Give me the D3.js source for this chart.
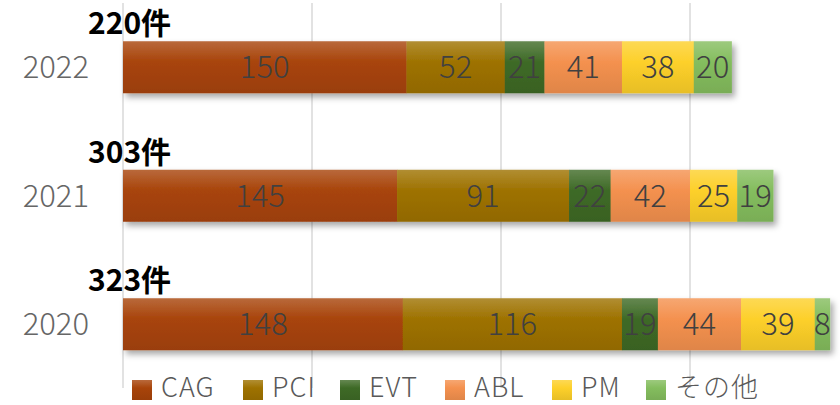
<!DOCTYPE html>
<html>
<head>
<meta charset="utf-8">
<script src="https://cdn.jsdelivr.net/npm/d3@7"></script>
<style>
  body { margin: 0; background: #fff; }
  svg { display: block; font-family: "Noto Sans CJK JP", "Noto Sans", sans-serif; }
</style>
</head>
<body>
<div id="chart"></div>
<script>
// data
var years = ['2022', '2021', '2020'];
var totalLabels = ['220件', '303件', '323件'];
var seriesNames = ['CAG', 'PCI', 'EVT', 'ABL', 'PM', 'その他'];
var cag = [150, 145, 148];
var pci = [52, 91, 116];
var evt = [21, 22, 19];
var abl = [41, 42, 44];
var pm = [38, 25, 39];
var other = [20, 19, 8];
var gridTicks = [0, 100, 200, 300];

var colors = ['#a8440a', '#9e7200', '#3e6a26', '#f4914f', '#fdd02a', '#84bd5e'];

var width = 840, height = 405;
var barH = 52;

var rows = years.map(function(y, i) {
  return { year: y, total: totalLabels[i], vals: [cag[i], pci[i], evt[i], abl[i], pm[i], other[i]] };
});

var x = d3.scaleLinear().domain([0, 380]).range([123, 123 + 380 * 1.89]);
var y = d3.scalePoint().domain(years).range([3, 388.5]).padding(0.5);

var svg = d3.select('#chart').append('svg')
  .attr('width', width)
  .attr('height', height);

var defs = svg.append('defs');

var shadow = defs.append('filter')
  .attr('id', 'shadow')
  .attr('x', '-5%').attr('y', '-20%')
  .attr('width', '110%').attr('height', '150%');
shadow.append('feDropShadow')
  .attr('dx', 3).attr('dy', 4)
  .attr('stdDeviation', 3)
  .attr('flood-color', '#000')
  .attr('flood-opacity', 0.35);

colors.forEach(function(c, i) {
  var g = defs.append('linearGradient')
    .attr('id', 'grad' + i)
    .attr('x1', 0).attr('y1', 0).attr('x2', 0).attr('y2', 1);
  g.append('stop').attr('offset', '0%').attr('stop-color', d3.interpolateRgb(c, '#fff')(0.2));
  g.append('stop').attr('offset', '40%').attr('stop-color', c);
  g.append('stop').attr('offset', '100%').attr('stop-color', d3.color(c).darker(0.25));
});

// grid
svg.append('g').selectAll('line')
  .data(gridTicks)
  .enter().append('line')
  .attr('x1', function(d) { return x(d); })
  .attr('x2', function(d) { return x(d); })
  .attr('y1', 3)
  .attr('y2', 388)
  .attr('stroke', '#d9d9d9')
  .attr('stroke-width', 1.5);

// bars
var rowG = svg.selectAll('g.row')
  .data(rows)
  .enter().append('g')
  .attr('class', 'row');

rowG.each(function(d) {
  var g = d3.select(this);
  var cy = y(d.year);
  var acc = 0;
  var segs = d.vals.map(function(v, i) {
    var s = { x0: acc, x1: acc + v, v: v, i: i };
    acc += v;
    return s;
  });

  var bars = g.append('g').attr('filter', 'url(#shadow)');
  bars.selectAll('rect')
    .data(segs)
    .enter().append('rect')
    .attr('x', function(s) { return x(s.x0); })
    .attr('width', function(s) { return x(s.x1) - x(s.x0) + 0.3; })
    .attr('y', cy - barH / 2)
    .attr('height', barH)
    .attr('fill', function(s) { return 'url(#grad' + s.i + ')'; });

  g.selectAll('text.val')
    .data(segs)
    .enter().append('text')
    .attr('class', 'val')
    .attr('x', function(s) { return (x(s.x0) + x(s.x1)) / 2; })
    .attr('y', cy)
    .attr('dy', '0.36em')
    .attr('text-anchor', 'middle')
    .attr('font-size', 31)
    .attr('font-weight', 300)
    .attr('fill', '#404040')
    .text(function(s) { return s.v; });

  g.append('text')
    .attr('x', 89)
    .attr('y', cy)
    .attr('dy', '0.36em')
    .attr('text-anchor', 'end')
    .attr('font-size', 31)
    .attr('font-weight', 300)
    .attr('fill', '#666')
    .text(d.year);

  g.append('text')
    .attr('x', 88)
    .attr('y', cy - barH / 2 - 7)
    .attr('font-size', 30)
    .attr('font-weight', 700)
    .attr('fill', '#000')
    .text(d.total);
});

// legend
var legendX = [132, 243, 340, 445, 552, 646];
var legend = svg.append('g').selectAll('g')
  .data(seriesNames)
  .enter().append('g')
  .attr('transform', function(d, i) { return 'translate(' + legendX[i] + ',380)'; });

legend.append('rect')
  .attr('width', 20)
  .attr('height', 20)
  .attr('fill', function(d, i) { return 'url(#grad' + i + ')'; });

legend.append('text')
  .attr('x', 29)
  .attr('y', 17)
  .attr('font-size', 27)
  .attr('font-weight', 300)
  .attr('letter-spacing', 1)
  .attr('fill', '#595959')
  .text(function(d) { return d; });
</script>
</body>
</html>
